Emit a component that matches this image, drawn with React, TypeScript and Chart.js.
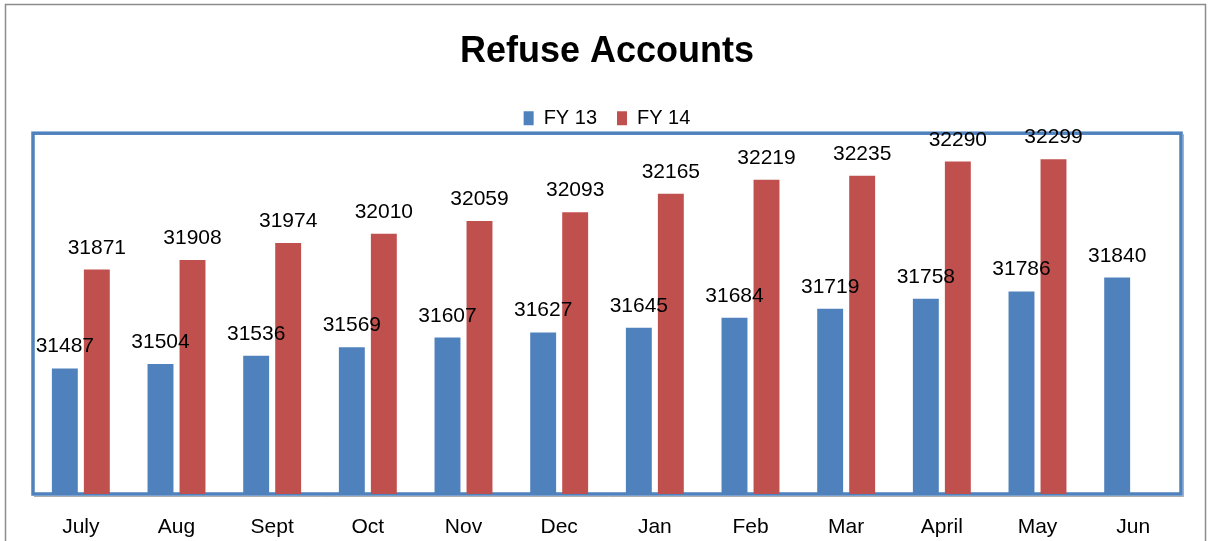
import React, { useEffect, useRef } from "react";
import { Chart, registerables } from "chart.js";

Chart.register(...registerables);

const categories = ["July", "Aug", "Sept", "Oct", "Nov", "Dec", "Jan", "Feb", "Mar", "April", "May", "Jun"];
const fy13 = [31487, 31504, 31536, 31569, 31607, 31627, 31645, 31684, 31719, 31758, 31786, 31840];
const fy14 = [31871, 31908, 31974, 32010, 32059, 32093, 32165, 32219, 32235, 32290, 32299, null];
const seriesNames = ["FY 13", "FY 14"];
const titleText = "Refuse Accounts";
const yMin = 31000;
const yMax = 32400;

const FONT = "'Liberation Sans', Arial, sans-serif";
const BLUE = "#4F81BD";
const RED = "#C0504D";
const LEGEND_H = 45;
const XAXIS_H = 45;

const framePlugin = {
  id: "frame",
  beforeUpdate(chart: any) {
    const lg = chart.legend;
    if (lg && !lg.__patched) {
      const f = lg.fit;
      lg.fit = function () {
        f.call(this);
        this.height = LEGEND_H;
      };
      lg.__patched = true;
    }
  },
  beforeDraw(chart: any) {
    const { ctx } = chart;
    ctx.save();
    ctx.strokeStyle = "#8c8c8c";
    ctx.lineWidth = 1.5;
    ctx.strokeRect(5.5, 4.5, 1200, 560);
    ctx.restore();
  },
  beforeDatasetsDraw(chart: any) {
    const { ctx, chartArea: a } = chart;
    ctx.save();
    ctx.strokeStyle = "rgba(120,120,120,0.6)";
    ctx.lineWidth = 1;
    ctx.beginPath();
    ctx.moveTo(a.left + 1, a.bottom + 2.5);
    ctx.lineTo(a.right + 2.5, a.bottom + 2.5);
    ctx.lineTo(a.right + 2.5, a.top + 1);
    ctx.stroke();
    ctx.strokeStyle = BLUE;
    ctx.lineWidth = 3.5;
    ctx.strokeRect(a.left, a.top, a.right - a.left, a.bottom - a.top);
    ctx.restore();
  },
};

const labelPlugin = {
  id: "valueLabels",
  afterDatasetsDraw(chart: any) {
    const { ctx } = chart;
    ctx.save();
    ctx.font = `21px ${FONT}`;
    ctx.fillStyle = "#000";
    ctx.textAlign = "center";
    ctx.textBaseline = "alphabetic";
    chart.data.datasets.forEach((ds: any, i: number) => {
      const meta = chart.getDatasetMeta(i);
      meta.data.forEach((el: any, j: number) => {
        const v = ds.data[j];
        if (v === null || v === undefined) return;
        ctx.fillText(String(v), el.x, el.y - 16);
      });
    });
    ctx.restore();
  },
};

export default function App() {
  const ref = useRef<HTMLCanvasElement | null>(null);
  useEffect(() => {
    if (!ref.current) return;
    const chart = new Chart(ref.current, {
      type: "bar",
      data: {
        labels: categories,
        datasets: [
          { label: seriesNames[0], data: fy13, backgroundColor: BLUE },
          { label: seriesNames[1], data: fy14, backgroundColor: RED },
        ],
      },
      options: {
        responsive: false,
        animation: false,
        devicePixelRatio: 1,
        layout: { padding: { left: 33, right: 27, top: 0, bottom: 2 } },
        datasets: { bar: { categoryPercentage: 0.669, barPercentage: 0.81 } },
        plugins: {
          title: {
            display: true,
            text: titleText,
            color: "#000",
            font: { family: FONT, size: 36, weight: "bold" },
            padding: { top: 30, bottom: 15 },
          },
          legend: {
            display: true,
            position: "top",
            labels: {
              color: "#000",
              boxWidth: 10,
              boxHeight: 14,
              padding: 20,
              font: { family: FONT, size: 20 },
            },
          },
          tooltip: { enabled: false },
        },
        scales: {
          x: {
            grid: { display: false },
            border: { display: false },
            ticks: { color: "#000", font: { family: FONT, size: 21 }, padding: 13, maxRotation: 0 },
            afterFit(scale: any) {
              scale.height = XAXIS_H;
            },
          },
          y: { display: false, min: yMin, max: yMax },
        },
      },
      plugins: [framePlugin, labelPlugin],
    });
    return () => chart.destroy();
  }, []);
  return (
    <div style={{ position: "absolute", left: 0, top: 0, width: 1208, height: 541, background: "#fff" }}>
      <canvas ref={ref} width={1208} height={541} />
    </div>
  );
}
